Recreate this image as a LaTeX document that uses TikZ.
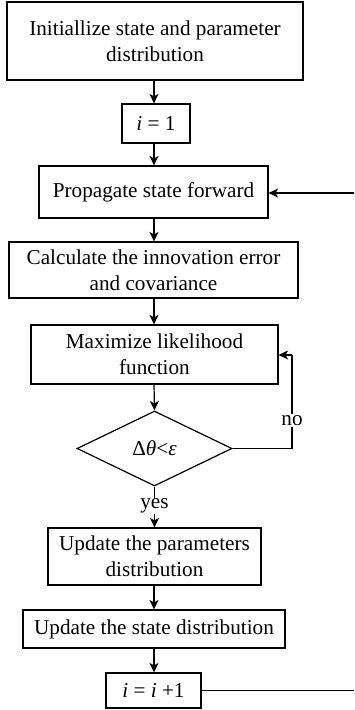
\documentclass[tikz,border=0pt]{standalone}
\usepackage{fontspec}
\setmainfont{Liberation Serif}
\usetikzlibrary{arrows.meta,shapes.geometric}
\begin{document}
\begin{tikzpicture}[x=1pt,y=-1pt,
  every node/.style={font=\fontsize{21.2}{26}\selectfont, inner sep=0pt},
  box/.style={draw, line width=1.2pt, align=center},
  link/.style={line width=1.2pt},
  flow/.style={link, -{Stealth[length=9.5pt,width=9pt,inset=2.5pt]}},
  tag/.style={fill=white, inner sep=1pt}]
\useasboundingbox (0,0) rectangle (354,710);

\node[box, minimum width=296pt, minimum height=78pt] (init) at (155,41)
  {Initiallize state and parameter\\distribution};
\node[box, minimum width=68pt, minimum height=39pt] (ione) at (156,123.5)
  {\textit{i} = 1};
\node[box, minimum width=229pt, minimum height=52pt] (prop) at (153.5,192)
  {Propagate state forward};
\node[box, minimum width=289pt, minimum height=56pt] (calc) at (153.5,270)
  {Calculate the innovation error\\and covariance};
\node[box, minimum width=247pt, minimum height=59pt] (maxl) at (154.5,354.5)
  {Maximize likelihood\\function};
\node[draw, line width=1.2pt, shape=diamond, minimum width=155pt, minimum height=75pt] (test) at (154.5,448.5)
  {Δ\textit{θ}<\textit{ε}};
\node[box, minimum width=213pt, minimum height=57pt] (upar) at (154.5,556.5)
  {Update the parameters\\distribution};
\node[box, minimum width=262pt, minimum height=38pt] (ust) at (154,629)
  {Update the state distribution};
\node[box, minimum width=95pt, minimum height=35pt] (inc) at (153.5,690.5)
  {\textit{i} = \textit{i} +1};

% main chain
\draw[flow] (init.south -| 154,0) -- (ione.north -| 154,0);
\draw[flow] (ione.south -| 154,0) -- (prop.north -| 154,0);
\draw[flow] (prop.south -| 154,0) -- (calc.north -| 154,0);
\draw[flow] (calc.south -| 154,0) -- (maxl.north -| 154,0);
\draw[flow] (maxl.south -| 154,0) -- (test.north);
\draw[flow] (test.south) -- node[tag, pos=0.47] (yes) {yes} (upar.north -| test.south);
\draw[flow] (upar.south -| 154,0) -- (ust.north -| 154,0);
\draw[flow] (ust.south -| 154,0) -- (inc.north -| 154,0);

% inner loop back to the likelihood step
\coordinate (nocorner) at (292,448.5);
\coordinate (notop) at (292,355);
\draw[link] (test.east) -- (nocorner) -- node[tag, pos=0.3] (no) {no} (notop);
\draw[flow] (notop) -- (maxl.east |- notop);

% outer loop back to propagation
\coordinate (outR) at (354,690.5);
\coordinate (inR) at (354,193);
\draw[link] (inc.east) -- (outR);
\draw[flow] (inR) -- (prop.east |- inR);
\end{tikzpicture}
\end{document}
